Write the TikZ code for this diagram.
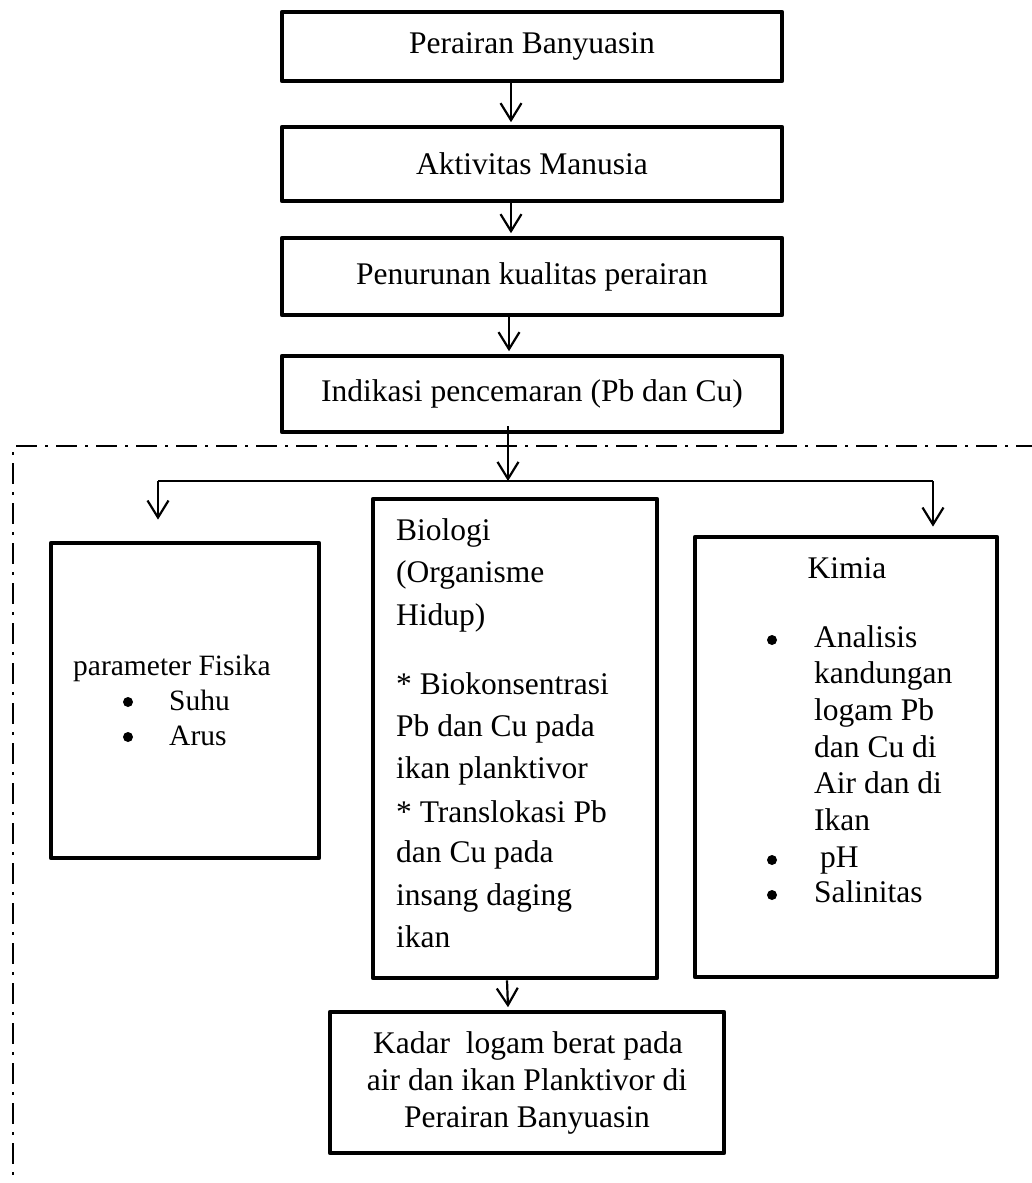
\documentclass[tikz,border=0pt]{standalone}
\usepackage{fontspec}
\setmainfont{Liberation Serif}
\usetikzlibrary{arrows.meta}
\begin{document}
\begin{tikzpicture}[x=1pt,y=-1pt,
  box/.style={draw, line width=4.8pt, line join=round, rectangle, inner sep=0pt,
    font=\fontsize{31.5}{38}\selectfont},
  txt/.style={inner sep=0pt, font=\fontsize{31.5}{38}\selectfont},
  ftxt/.style={inner sep=0pt, font=\fontsize{29.5}{35}\selectfont},
  dot/.style={circle, fill, inner sep=0pt, minimum size=10pt},
  arr/.style={line width=2.2pt, -{Straight Barb[length=17pt,width=21pt,line width=2.2pt]}},
  split/.style={line width=1.6pt},
  frame/.style={line width=2.7pt}]
\useasboundingbox (0,0) rectangle (1032,1183);

% top chain
\node[box, minimum width=500pt, minimum height=69pt] (b1) at (532,46.5) {Perairan Banyuasin};
\node[box, minimum width=500pt, minimum height=74pt] (b2) at (532,164) {Aktivitas Manusia};
\node[box, minimum width=500pt, minimum height=77pt] (b3) at (532,276.5) {Penurunan kualitas perairan};
\node[box, minimum width=500pt, minimum height=76pt] (b4) at (532,394) {Indikasi pencemaran (Pb dan Cu)};

\draw[arr] ([xshift=-21pt]b1.south) -- ([xshift=-21pt, yshift=2.4pt]b2.north);
\draw[arr] ([xshift=-21pt]b2.south) -- ([xshift=-21pt, yshift=2.4pt]b3.north);
\draw[arr] ([xshift=-23pt]b3.south) -- ([xshift=-23pt, yshift=2.4pt]b4.north);

% dash-dot frame
\coordinate (fTL) at (16,446);
\coordinate (fTR) at (1032,446);
\coordinate (fLT) at (13,452);
\coordinate (fLB) at (13,1183);
\draw[frame, dash pattern=on 21pt off 8pt on 3pt off 8pt] (fTL) -- (fTR);
\draw[frame, dash pattern=on 3pt off 8pt on 21pt off 8pt] (fLT) -- (fLB);

% lower boxes
\node[box, minimum width=268pt, minimum height=315pt] (fis) at (185,700.5) {};
\node[box, minimum width=284pt, minimum height=479pt] (bio) at (515,738.5) {};
\node[box, minimum width=302pt, minimum height=440pt] (kim) at (846,757) {};
\node[box, minimum width=394pt, minimum height=141pt] (kad) at (527,1082.5) {};

% splitter
\coordinate (sL) at (158,481);
\coordinate (sR) at (933,481);
\coordinate (sM) at (508,481);
\draw[split] (sL) -- (sR);
\draw[arr] ([xshift=-24pt, yshift=8pt]b4.south) -- (sM);
\draw[arr, shorten >=21pt] (sL) -- (sL |- fis.north);
\draw[arr, shorten >=8pt] (sR) -- (sR |- kim.north);
\draw[arr] ([xshift=-8pt]bio.south) -- ([xshift=-19pt, yshift=2.4pt]kad.north);

% Fisika text
\node[ftxt, anchor=base west] (fisT) at (73,675) {parameter Fisika};
\node[dot] (fisB1) at (128,702) {};
\node[ftxt, anchor=base west] (fisS) at (169,710) {Suhu};
\node[dot] (fisB2) at (128,737) {};
\node[ftxt, anchor=base west] (fisA) at (169,745) {Arus};

% Biologi text
\foreach \yy/\tt [count=\i] in {540/Biologi, 582/(Organisme, 625/Hidup),
  694/* Biokonsentrasi, 736/Pb dan Cu pada, 778/ikan planktivor,
  822/* Translokasi Pb, 862/dan Cu pada, 905/insang daging, 947/ikan}
  \node[txt, anchor=base west] (bioL\i) at (396,\yy) {\tt};

% Kimia text
\node[txt, anchor=base] (kimT) at (847,578) {Kimia};
\node[dot] (kimB1) at (772,640) {};
\foreach \yy/\tt [count=\i] in {647/Analisis, 683/kandungan, 720/logam Pb,
  757/dan Cu di, 793/Air dan di, 830/Ikan}
  \node[txt, anchor=base west] (kimL\i) at (814,\yy) {\tt};
\node[dot] (kimB2) at (772,860) {};
\node[txt, anchor=base west] (kimP) at (820,867) {pH};
\node[dot] (kimB3) at (772,895) {};
\node[txt, anchor=base west] (kimS) at (814,902) {Salinitas};

% Kadar text
\node[txt, anchor=base] (kadL1) at (528,1053) {Kadar\ \ logam berat pada};
\node[txt, anchor=base] (kadL2) at (527,1090) {air dan ikan Planktivor di};
\node[txt, anchor=base] (kadL3) at (527,1127) {Perairan Banyuasin};
\end{tikzpicture}
\end{document}
